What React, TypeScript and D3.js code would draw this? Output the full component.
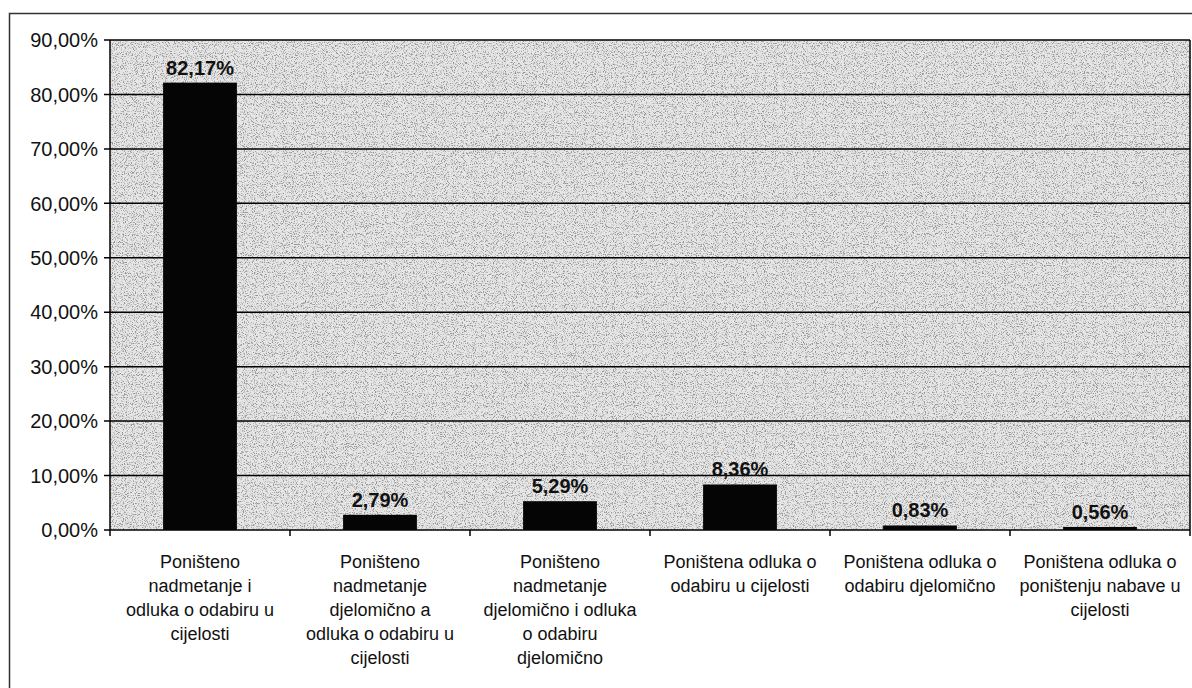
import React, { useEffect, useRef } from "react";
import * as d3 from "d3";

// Data
const categories = ["c1", "c2", "c3", "c4", "c5", "c6"];
const categoryLines: string[][] = [
  ["Poništeno", "nadmetanje i", "odluka o odabiru u", "cijelosti"],
  ["Poništeno", "nadmetanje", "djelomično a", "odluka o odabiru u", "cijelosti"],
  ["Poništeno", "nadmetanje", "djelomično i odluka", "o odabiru", "djelomično"],
  ["Poništena odluka o", "odabiru u cijelosti"],
  ["Poništena odluka o", "odabiru djelomično"],
  ["Poništena odluka o", "poništenju nabave u", "cijelosti"],
];
const values = [82.17, 2.79, 5.29, 8.36, 0.83, 0.56];
const yTicks = [0, 10, 20, 30, 40, 50, 60, 70, 80, 90];

const W = 1192;
const H = 688;
const fmt = (v: number) => v.toFixed(2).replace(".", ",") + "%";

const App: React.FC = () => {
  const svgRef = useRef<SVGSVGElement>(null);

  useEffect(() => {
    if (!svgRef.current) return;
    const svg = d3.select(svgRef.current);
    svg.selectAll("*").remove();

    const left = 110;
    const right = 1190;
    const top = 40;
    const bottom = 530;
    const font = "Arial, 'Liberation Sans', sans-serif";

    const x = d3.scaleBand<string>().domain(categories).range([left, right]).paddingInner(0.59).paddingOuter(0.295);
    const y = d3.scaleLinear().domain([0, 90]).range([bottom, top]);
    const step = x.step();

    // noise texture for the scanned look
    const defs = svg.append("defs");
    const f = defs.append("filter").attr("id", "speckle").attr("x", 0).attr("y", 0).attr("width", 1).attr("height", 1);
    f.append("feTurbulence").attr("type", "fractalNoise").attr("baseFrequency", 0.9).attr("numOctaves", 2).attr("seed", 7);
    f.append("feColorMatrix").attr("type", "matrix")
      .attr("values", "0 0 0 0 0.3  0 0 0 0 0.3  0 0 0 0 0.3  5 0 0 0 -2.55");

    svg.append("rect").attr("width", W).attr("height", H).attr("fill", "#fff");

    // outer frame
    svg.append("rect").attr("x", 9.5).attr("y", 13.5).attr("width", 1200).attr("height", 700)
      .attr("fill", "none").attr("stroke", "#333").attr("stroke-width", 1.5);

    // plot area
    svg.append("rect").attr("x", left).attr("y", top).attr("width", right - left).attr("height", bottom - top)
      .attr("fill", "#e6e6e6");
    svg.append("rect").attr("x", left).attr("y", top).attr("width", right - left).attr("height", bottom - top)
      .attr("fill", "#000").attr("filter", "url(#speckle)");

    // gridlines
    svg.append("g").selectAll("line").data(yTicks).join("line")
      .attr("x1", left - 6).attr("x2", right)
      .attr("y1", (d) => y(d)).attr("y2", (d) => y(d))
      .attr("stroke", "#000").attr("stroke-width", 1.5);

    svg.append("line").attr("x1", left).attr("x2", left).attr("y1", top).attr("y2", bottom)
      .attr("stroke", "#000").attr("stroke-width", 1.5);
    svg.append("line").attr("x1", right).attr("x2", right).attr("y1", top).attr("y2", bottom)
      .attr("stroke", "#000").attr("stroke-width", 1.5);

    // x ticks at band boundaries
    svg.append("g").selectAll("line").data(d3.range(categories.length + 1)).join("line")
      .attr("x1", (i) => left + i * step).attr("x2", (i) => left + i * step)
      .attr("y1", bottom).attr("y2", bottom + 6)
      .attr("stroke", "#000").attr("stroke-width", 1.5);

    // y labels
    svg.append("g").selectAll("text").data(yTicks).join("text")
      .attr("x", left - 12).attr("y", (d) => y(d)).attr("dy", "0.36em")
      .attr("text-anchor", "end").attr("font-family", font).attr("font-size", 20).attr("fill", "#111")
      .text((d) => fmt(d));

    // bars
    svg.append("g").selectAll("rect").data(values).join("rect")
      .attr("x", (_, i) => x(categories[i])!).attr("width", x.bandwidth())
      .attr("y", (d) => y(d)).attr("height", (d) => bottom - y(d))
      .attr("fill", "#050505");

    // value labels
    svg.append("g").selectAll("text").data(values).join("text")
      .attr("x", (_, i) => x(categories[i])! + x.bandwidth() / 2)
      .attr("y", (d) => y(d) - 8)
      .attr("text-anchor", "middle").attr("font-family", font).attr("font-size", 20)
      .attr("font-weight", "bold").attr("fill", "#111")
      .text((d) => fmt(d));

    // category labels
    const cat = svg.append("g").attr("font-family", font).attr("font-size", 18).attr("fill", "#111").attr("text-anchor", "middle");
    categoryLines.forEach((lines, i) => {
      const cx = x(categories[i])! + x.bandwidth() / 2;
      const t = cat.append("text");
      lines.forEach((ln, j) => {
        t.append("tspan").attr("x", cx).attr("y", 568 + j * 24).text(ln);
      });
    });
  }, []);

  return (
    <div style={{ position: "absolute", left: 0, top: 0 }}>
      <svg ref={svgRef} width={W} height={H} style={{ display: "block" }} />
    </div>
  );
};

export default App;
